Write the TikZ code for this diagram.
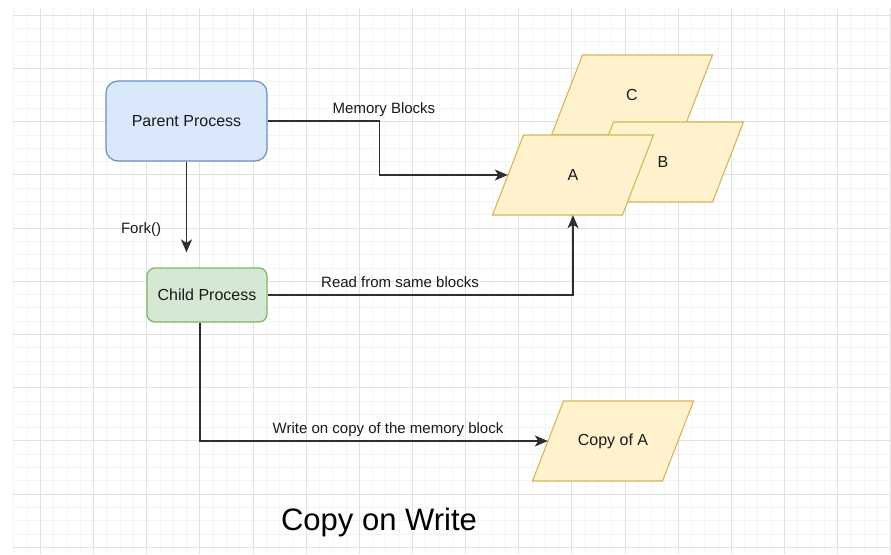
\documentclass[tikz,border=0pt]{standalone}
\usepackage{fontspec}
\setmainfont{Liberation Sans}
\usetikzlibrary{arrows.meta,calc}

\definecolor{gridminor}{HTML}{F4F4F4}
\definecolor{gridmajor}{HTML}{E1E1E1}
\definecolor{procfill}{HTML}{DAE8FC}
\definecolor{procline}{HTML}{6C8EBF}
\definecolor{childfill}{HTML}{D5E8D4}
\definecolor{childline}{HTML}{82B366}
\definecolor{memfill}{HTML}{FFF2CC}
\definecolor{memline}{HTML}{D6B656}
\definecolor{ink}{HTML}{1A1A1A}
\definecolor{wire}{HTML}{2E2E2E}

\tikzset{
  txt/.style={font=\fontsize{15}{18}\selectfont, text=ink, inner sep=0pt},
  procbox/.style={draw=procline, fill=procfill, line width=1.2pt, rounded corners=12pt,
    minimum width=161pt, minimum height=80pt, font=\fontsize{16}{19}\selectfont, text=ink},
  childbox/.style={draw=childline, fill=childfill, line width=1.2pt, rounded corners=8pt,
    minimum width=120pt, minimum height=54pt, font=\fontsize{16}{19}\selectfont, text=ink},
  memshape/.style={draw=memline, fill=memfill, line width=1.1pt},
  memtext/.style={minimum width=130pt, minimum height=80pt, inner sep=0pt,
    font=\fontsize{16}{19}\selectfont, text=ink},
  arr/.style={draw=wire, line width=1.7pt, -{Stealth[length=13pt,width=11pt,inset=3.5pt]}},
  gminor/.style={draw=gridminor, line width=1pt},
  gmajor/.style={draw=gridmajor, line width=1pt},
}

% parallelogram memory block: fill first, then a named text node on top
\newcommand\memblock[4]{%
  \filldraw[memshape] ({#2-65+15.5},{#3-40}) -- ({#2+65+15.5},{#3-40})
    -- ({#2+65-15.5},{#3+40}) -- ({#2-65-15.5},{#3+40}) -- cycle;
  \node[memtext] (#1) at (#2,#3) {#4};}

\begin{document}
\begin{tikzpicture}[x=1pt,y=-1pt]
\useasboundingbox (0,0) rectangle (891,554);
\fill[white] (0,0) rectangle (891,554);

% background grid: minor lines every 13.3, major every fourth,
% snapped to whole units so they stay crisp
\begin{scope}
  \clip (13,8) rectangle (891,554);
  \foreach \i in {-2,...,64}
    \draw[gminor] ({round(40+13.285*\i)+0.5},8) -- ({round(40+13.285*\i)+0.5},554);
  \foreach \j in {-4,...,37}
    \draw[gminor] (13,{round(68+13.3*\j)+0.5}) -- (891,{round(68+13.3*\j)+0.5});
  \foreach \k in {0,...,16}
    \draw[gmajor] ({round(40+53.14*\k)+0.5},8) -- ({round(40+53.14*\k)+0.5},554);
  \foreach \k in {-1,...,9}
    \draw[gmajor] (13,{round(68+53.2*\k)+0.5}) -- (891,{round(68+53.2*\k)+0.5});
\end{scope}

% processes
\node[procbox] (parent) at (186.5,121) {Parent Process};
\node[childbox] (child) at (207,295) {Child Process};

% memory blocks, back to front
\memblock{C}{632}{95}{C}
\memblock{B}{663}{162}{B}
\memblock{A}{573}{175}{A}
\memblock{copyA}{613}{441}{Copy of A}

% connectors
\draw[arr] (parent.east) -- ++(112,0) |- (A.west);
\draw[arr] (parent.south) -- ($(child.north -| parent.south)+(0,-15)$);
\draw[arr] (child.east) -| (A.south);
\draw[arr] ($(child.south)+(-7,0)$) |- (copyA.west);

% labels
\node[txt] (lblmem) at (384,110) {Memory Blocks};
\node[txt] (lblfork) at (141,230) {Fork()};
\node[txt] (lblread) at (400,282) {Read from same blocks};
\node[txt] (lblwrite) at (388,430) {Write on copy of the memory block};
\node[font=\fontsize{31}{36}\selectfont, text=black, inner sep=0pt] (title) at (379,522) {Copy on Write};
\end{tikzpicture}
\end{document}
